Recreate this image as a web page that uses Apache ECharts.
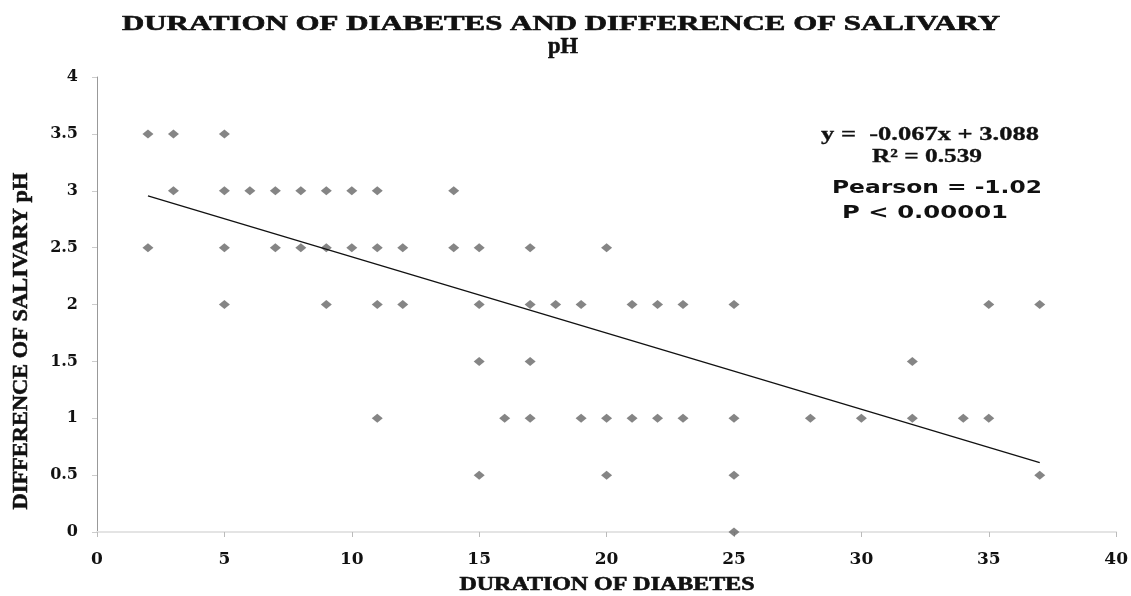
<!DOCTYPE html>
<html>
<head>
<meta charset="utf-8">
<script src="https://cdn.jsdelivr.net/npm/echarts@6/dist/echarts.min.js"></script>
<style>html,body{margin:0;padding:0;background:#fff}#c{width:1131px;height:596px}</style>
</head>
<body>
<div id="c"></div>
<script>
// Scatter data: [duration, difference of salivary pH]
const row35 = [2, 3, 5];
const row30 = [3, 5, 6, 7, 8, 9, 10, 11, 14];
const row25 = [2, 5, 7, 8, 9, 10, 11, 12, 14, 15, 17, 20];
const row20 = [5, 9, 11, 12, 15, 17, 18, 19, 21, 22, 23, 25, 35, 37];
const row15 = [15, 17, 32];
const row10 = [11, 16, 17, 19, 20, 21, 22, 23, 25, 28, 30, 32, 34, 35];
const row05 = [15, 20, 25, 37];
const row00 = [25];
const rowValues = [3.5, 3, 2.5, 2, 1.5, 1, 0.5, 0];
const rows = [row35, row30, row25, row20, row15, row10, row05, row00];

// Linear trendline from the chart: y = -0.067x + 3.088, drawn from x=2 to x=37
const trendSlope = -0.067;
const trendIntercept = 3.088;
const trendRange = [2, 37];

const xTicks = [0, 5, 10, 15, 20, 25, 30, 35, 40];
const yTicks = [0, 0.5, 1, 1.5, 2, 2.5, 3, 3.5, 4];

const titleLine1 = 'DURATION OF DIABETES AND DIFFERENCE OF SALIVARY';
const titleLine2 = 'pH';
const xName = 'DURATION OF DIABETES';
const yName = 'DIFFERENCE OF SALIVARY pH';
const eqLines = ['y =  -0.067x + 3.088', 'R² = 0.539'];
const statLines = ['Pearson = -1.02', 'P < 0.00001'];

const points = [];
rows.forEach((r, i) => r.forEach(x => points.push([x, rowValues[i]])));
const trend = trendRange.map(x => [x, trendSlope * x + trendIntercept]);

const serif = 'Liberation Serif';
const wideSerif = 'DejaVu Serif';
const sans = 'DejaVu Sans';

const measureCtx = document.createElement('canvas').getContext('2d');
// text element stretched horizontally so that its width matches the reference width
function txt(text, x, y, size, family, targetW, rot, heavy) {
  measureCtx.font = 'bold ' + size + 'px "' + family + '"';
  const w = measureCtx.measureText(text).width;
  const style = {
    text: text, x: 0, y: 0, align: 'center', verticalAlign: 'middle',
    fontSize: size, fontFamily: family, fontWeight: 'bold', fill: '#111'
  };
  if (heavy) { style.stroke = '#111'; style.lineWidth = heavy; }
  return { type: 'text', x: x, y: y, scaleX: targetW / w, rotation: rot || 0, style: style };
}

const chart = echarts.init(document.getElementById('c'));
chart.setOption({
  animation: false,
  backgroundColor: '#fff',
  grid: { left: 97, right: 14, top: 77, bottom: 64 },
  xAxis: {
    type: 'value', min: 0, max: 40, interval: 5,
    axisLine: { show: true, lineStyle: { color: '#e4e4e4', width: 2 } },
    axisTick: { show: true, length: 5, lineStyle: { color: '#bbb' } },
    axisLabel: { fontFamily: wideSerif, fontWeight: 'bold', fontSize: 17, color: '#111', margin: 19 },
    splitLine: { show: false }
  },
  yAxis: {
    type: 'value', min: 0, max: 4, interval: 0.5,
    axisLine: { show: true, lineStyle: { color: '#999', width: 1 } },
    axisTick: { show: true, length: 5, lineStyle: { color: '#ccc' } },
    axisLabel: { fontFamily: wideSerif, fontWeight: 'bold', fontSize: 16, color: '#111', margin: 19 },
    splitLine: { show: false }
  },
  series: [
    {
      type: 'scatter',
      data: points,
      symbol: 'diamond',
      symbolSize: [11, 9],
      itemStyle: { color: '#666' }
    },
    {
      type: 'line',
      data: trend,
      symbol: 'none',
      lineStyle: { color: '#111', width: 1.3 }
    }
  ],
  graphic: [
    txt(titleLine1, 561, 24, 22, serif, 878, 0, 0.6),
    txt(titleLine2, 563, 47, 23, serif, 30, 0, 0.6),
    txt(xName, 607, 585, 19, serif, 295, 0, 0.6),
    txt(yName, 22, 341, 20, serif, 337, Math.PI / 2, 0.5),
    txt(eqLines[0], 930, 135, 19, serif, 218, 0, 0.3),
    txt(eqLines[1], 927, 157, 19, serif, 110, 0, 0.3),
    txt(statLines[0], 937, 188, 18, sans, 210),
    txt(statLines[1], 925, 213, 18, sans, 166)
  ]
});
</script>
</body>
</html>
